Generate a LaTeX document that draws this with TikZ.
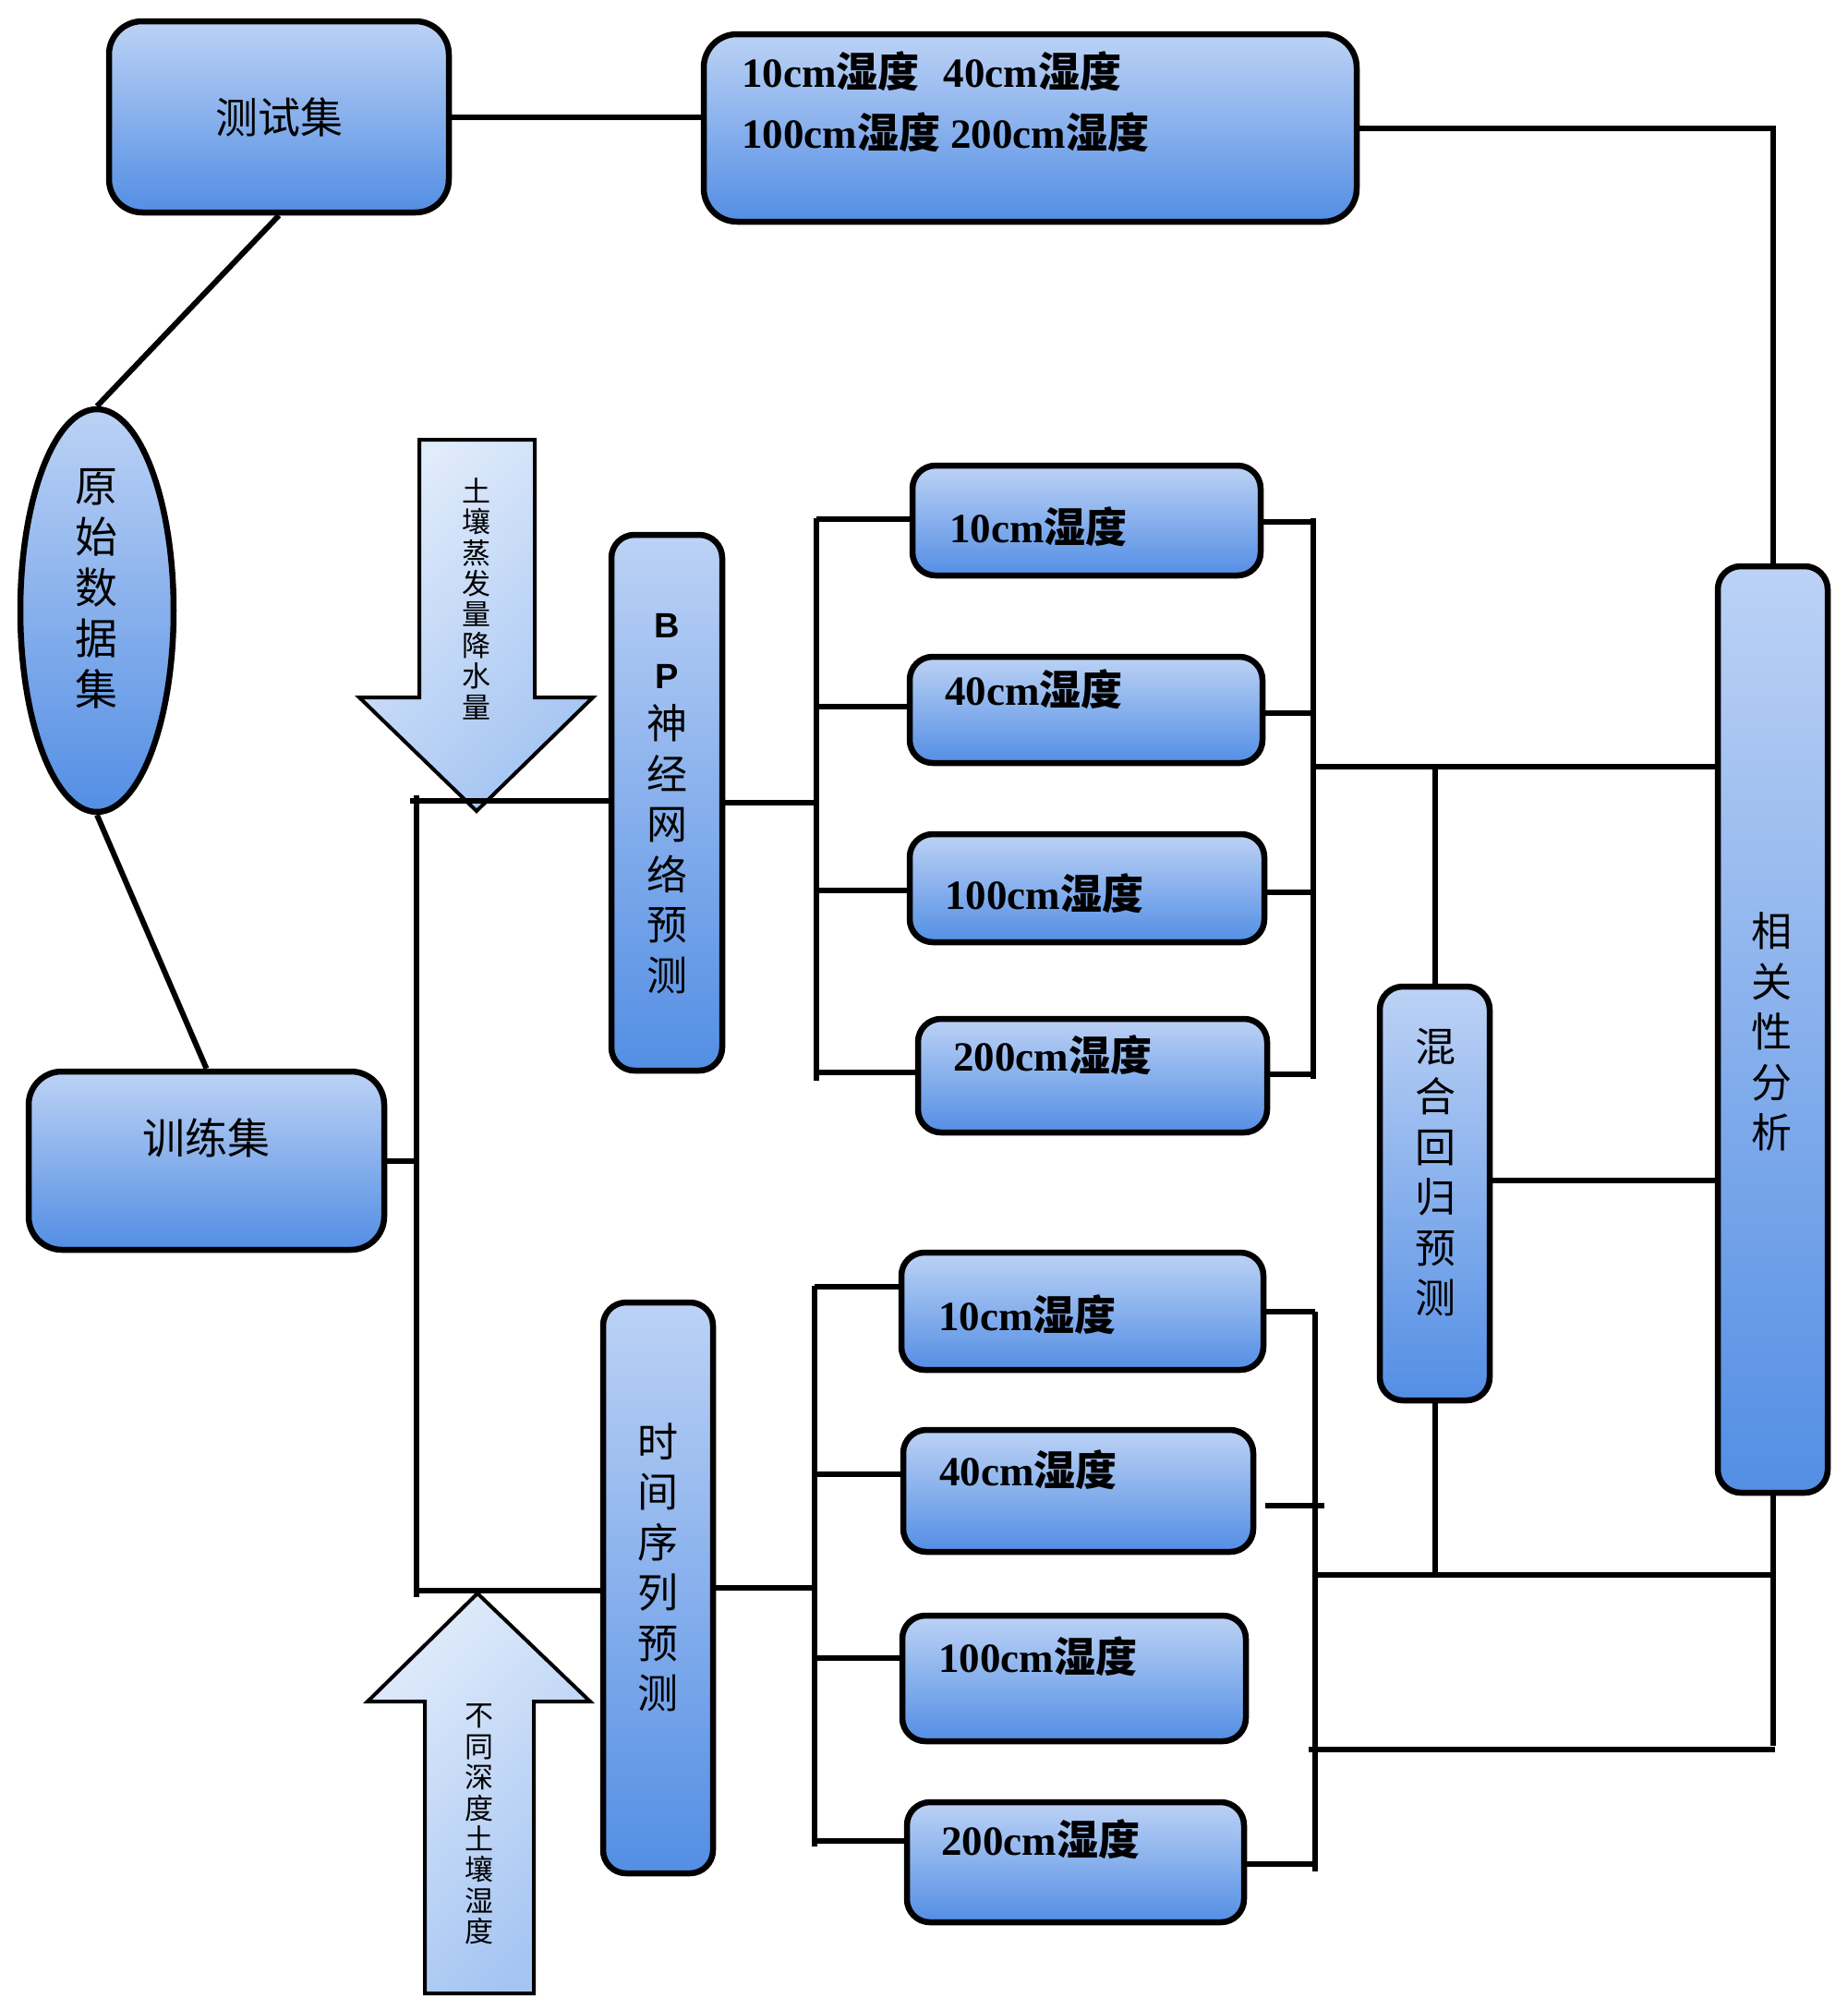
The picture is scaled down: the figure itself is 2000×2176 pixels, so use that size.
\documentclass[tikz,border=0pt]{standalone}
\usepackage{fontspec}
\setmainfont{Liberation Serif}
\setsansfont{Liberation Sans}
\newfontfamily\cjk{Noto Sans CJK SC}
\usetikzlibrary{shapes.geometric}
\definecolor{boxT}{RGB}{188,210,245}
\definecolor{boxB}{RGB}{83,142,228}
\definecolor{arrL}{RGB}{224,235,251}
\definecolor{arrR}{RGB}{164,196,242}
\newcommand{\hlab}[1]{#1{\cjk 湿度}}
\newcommand{\bpl}[1]{{\fontsize{38pt}{54.5pt}\selectfont\sffamily\bfseries #1}}
\begin{document}
\begin{tikzpicture}[x=1pt,y=-1pt,
  box/.style={draw=black, line width=6.5pt, rounded corners=25pt, top color=boxT, bottom color=boxB, inner sep=0pt},
  bigbox/.style={box, rounded corners=36pt},
  conn/.style={draw=black, line width=6pt},
  vtext/.style={font=\cjk\fontsize{44pt}{54.5pt}\selectfont, align=center, inner sep=0pt},
  big/.style={font=\cjk\fontsize{46pt}{55pt}\selectfont, align=center, inner sep=0pt},
  lbl/.style={font=\fontsize{45pt}{54pt}\selectfont\bfseries, anchor=west, inner sep=0pt},
  atext/.style={font=\cjk\fontsize{31pt}{33.4pt}\selectfont, align=center, inner sep=0pt},
  arrowshape/.style={draw=black, line width=4pt, top color=arrL, bottom color=arrR, shading angle=45}]
\fill[white] (0,0) rectangle (2000,2176);
\useasboundingbox (0,0) rectangle (2000,2176);

% block arrows
\path[arrowshape] (454,476) -- (579,476) -- (579,755) -- (642,755) -- (516,878) -- (389,755) -- (454,755) -- cycle;
\node[atext] (atxt1) at (516,648) {土\\壤\\蒸\\发\\量\\降\\水\\量};
\path[arrowshape] (517,1725) -- (639,1842) -- (578,1842) -- (578,2158) -- (460,2158) -- (460,1842) -- (398,1842) -- cycle;
\node[atext] (atxt2) at (519,1975) {不\\同\\深\\度\\土\\壤\\湿\\度};

% main boxes
\node[bigbox, minimum width=368pt, minimum height=207pt, font=\cjk\fontsize{46pt}{55pt}\selectfont] (test) at (302,126.5) {测试集};
\node[bigbox, minimum width=707pt, minimum height=203pt] (top) at (1115.5,138.5) {};
\node[lbl] (top1) at (803,77) {\hlab{10cm}\hspace{26pt}\hlab{40cm}};
\node[lbl] (top2) at (803,143) {\hlab{100cm} \hlab{200cm}};

\node[ellipse, draw=black, line width=6.5pt, top color=boxT, bottom color=boxB, minimum width=166pt, minimum height=436pt, inner sep=0pt] (orig) at (105,661) {};
\node[big] (origt) at (104,637) {原\\始\\数\\据\\集};

\node[bigbox, minimum width=385pt, minimum height=193pt] (train) at (223.5,1256.5) {};
\node[big] (traint) at (223,1232) {训练集};

\node[box, minimum width=120pt, minimum height=580pt] (bp) at (722,869) {};
\node[vtext] (bpt) at (722,870) {\bpl{B}\\\bpl{P}\\神\\经\\网\\络\\预\\测};

\node[box, minimum width=377pt, minimum height=119pt] (bp10) at (1176.5,563.5) {};
\node[lbl] (bp10t) at (1028,570) {\hlab{10cm}};
\node[box, minimum width=382pt, minimum height=115pt] (bp40) at (1176,768.5) {};
\node[lbl] (bp40t) at (1023,746) {\hlab{40cm}};
\node[box, minimum width=384pt, minimum height=117pt] (bp100) at (1177,961.5) {};
\node[lbl] (bp100t) at (1023,967) {\hlab{100cm}};
\node[box, minimum width=378pt, minimum height=123pt] (bp200) at (1183,1164.5) {};
\node[lbl] (bp200t) at (1032,1142) {\hlab{200cm}};

\node[box, minimum width=119pt, minimum height=448pt] (mix) at (1553.5,1292) {};
\node[vtext] (mixt) at (1554,1269) {混\\合\\回\\归\\预\\测};

\node[box, minimum width=119pt, minimum height=1003pt] (corr) at (1919.5,1114.5) {};
\node[vtext] (corrt) at (1918,1117) {相\\关\\性\\分\\析};

\node[box, minimum width=119pt, minimum height=618pt] (ts) at (712.5,1719) {};
\node[vtext] (tst) at (712,1697) {时\\间\\序\\列\\预\\测};

\node[box, minimum width=392pt, minimum height=127pt] (ts10) at (1172,1419.5) {};
\node[lbl] (ts10t) at (1016,1423) {\hlab{10cm}};
\node[box, minimum width=379pt, minimum height=132pt] (ts40) at (1167.5,1614) {};
\node[lbl] (ts40t) at (1017,1591) {\hlab{40cm}};
\node[box, minimum width=372pt, minimum height=136pt] (ts100) at (1163,1817) {};
\node[lbl] (ts100t) at (1016,1793) {\hlab{100cm}};
\node[box, minimum width=365pt, minimum height=130pt] (ts200) at (1164.5,2016) {};
\node[lbl] (ts200t) at (1019,1991) {\hlab{200cm}};

% connectors
\draw[conn] (test.east) -- (test.east -| top.west);
\draw[conn] (top.east) -| (corr.north);
\draw[conn] (test.south) -- (orig.north);
\draw[conn] (orig.south) -- (train.north);

\coordinate (jTr) at (451,1256.5);
\draw[conn] (train.east) -- (jTr);
\coordinate (trT) at (451,861);
\coordinate (trB) at (451,1729);
\draw[conn] (trT) -- (trB);
\coordinate (brT) at (444,867);
\draw[conn] (brT) -- (brT -| bp.west);
\coordinate (brB) at (451,1722);
\draw[conn] (brB) -- (brB -| ts.west);

% BP fan-out
\coordinate (bpL1) at (884,561);
\coordinate (bpL2) at (884,1170);
\draw[conn] (bpL1) -- (bpL2);
\draw[conn] (bp.east) -- (bp.east -| bpL1);
\coordinate (bq1) at (884,562);
\coordinate (bq2) at (884,765);
\coordinate (bq3) at (884,964);
\coordinate (bq4) at (884,1161);
\draw[conn] (bq1) -- (bq1 -| bp10.west);
\draw[conn] (bq2) -- (bq2 -| bp40.west);
\draw[conn] (bq3) -- (bq3 -| bp100.west);
\draw[conn] (bq4) -- (bq4 -| bp200.west);

% BP collector
\coordinate (bpR1) at (1422,561);
\coordinate (bpR2) at (1422,1168);
\draw[conn] (bpR1) -- (bpR2);
\coordinate (br1) at (1422,565);
\coordinate (br2) at (1422,772);
\coordinate (br3) at (1422,966);
\coordinate (br4) at (1422,1163);
\draw[conn] (br1 -| bp10.east) -- (br1);
\draw[conn] (br2 -| bp40.east) -- (br2);
\draw[conn] (br3 -| bp100.east) -- (br3);
\draw[conn] (br4 -| bp200.east) -- (br4);
\coordinate (bpC) at (1422,830);
\draw[conn] (bpC) -- (bpC -| corr.west);
\draw[conn] (bpC -| mix.north) -- (mix.north);
\draw[conn] ([yshift=14pt]mix.east) -- ([yshift=14pt]mix.east -| corr.west);

% TS fan-out
\coordinate (tsL1) at (882,1392);
\coordinate (tsL2) at (882,1999);
\draw[conn] (tsL1) -- (tsL2);
\draw[conn] (ts.east) -- (ts.east -| tsL1);
\coordinate (tq1) at (882,1393);
\coordinate (tq2) at (882,1596);
\coordinate (tq3) at (882,1795);
\coordinate (tq4) at (882,1993);
\draw[conn] (tq1) -- (tq1 -| ts10.west);
\draw[conn] (tq2) -- (tq2 -| ts40.west);
\draw[conn] (tq3) -- (tq3 -| ts100.west);
\draw[conn] (tq4) -- (tq4 -| ts200.west);

% TS collector
\coordinate (tsR1) at (1424,1420);
\coordinate (tsR2) at (1424,2026);
\draw[conn] (tsR1) -- (tsR2);
\draw[conn] (ts10.east) -- (ts10.east -| tsR1);
\draw[conn] ([shift={(10pt,-16pt)}]ts40.east) -- ([shift={(10pt,-16pt)}]ts40.east -| tsR1);
\coordinate (tr4) at (1424,2018);
\draw[conn] (tr4 -| ts200.east) -- (tr4);
\coordinate (tsC) at (1424,1705);
\draw[conn] (tsC) -- (tsC -| corr.south);
\draw[conn] (mix.south) -- (mix.south |- tsC);
\coordinate (cB) at (1919.5,1890);
\draw[conn] (corr.south) -- (cB);
\coordinate (bh1) at (1417,1894);
\coordinate (bh2) at (1922,1894);
\draw[conn] (bh1) -- (bh2);
\end{tikzpicture}
\end{document}
